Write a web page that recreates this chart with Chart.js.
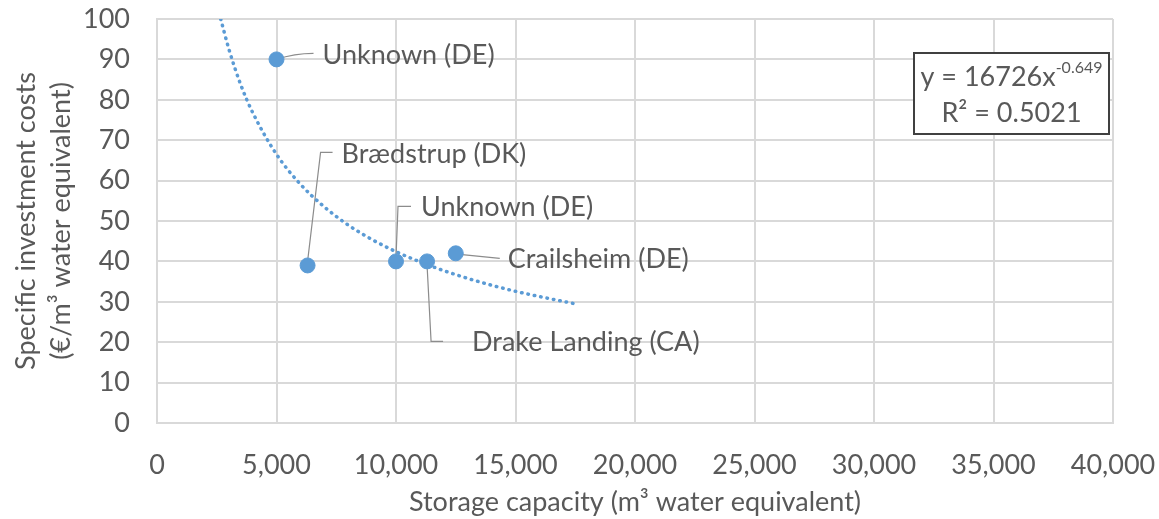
<!DOCTYPE html>
<html>
<head>
<meta charset="utf-8">
<script src="https://cdn.jsdelivr.net/npm/chart.js@4/dist/chart.umd.min.js"></script>
<style>
    body { margin: 0; background: #fff; }
    #wrap { width: 1159px; height: 519px; }
</style>
</head>
<body>
<div id="wrap"><canvas id="storage-chart" width="1159" height="519"></canvas></div>
<script>
// plants: storage capacity (m3 water eq.) vs specific cost (EUR/m3)
const plantNames = ['Unknown (DE)', 'Brædstrup (DK)', 'Unknown (DE)', 'Drake Landing (CA)', 'Crailsheim (DE)'];
const capacity = [5000, 6300, 10000, 11300, 12500];
const costs = [90, 39, 40, 40, 42];

// power trendline
const trendX = [2666, 3000, 3500, 4000, 5000, 6000, 7000, 8000, 9000, 10000, 11000, 12000, 13000, 14000, 15000, 16000, 17500];
const trendY = [100, 92.7, 83.8, 76.9, 66.5, 59.1, 53.5, 49.0, 45.4, 42.4, 39.9, 37.7, 35.8, 34.1, 32.6, 31.3, 29.5];

const xTicks = [0, 5000, 10000, 15000, 20000, 25000, 30000, 35000, 40000];
const yTicks = [0, 10, 20, 30, 40, 50, 60, 70, 80, 90, 100];

const textColor = '#595959';
const blue = '#5B9BD5';
const fontFamily = 'Lato, "Open Sans", sans-serif';

// leader line path + label anchor, offsets in px from the point
const leaders = [
    { path: [[0, 0], [37, -6]], curve: true, text: [46, -4] },
    { path: [[0, -4], [13, -113], [25, -113]], text: [34, -111] },
    { path: [[0, -4], [2, -55], [15, -55]], text: [25, -54] },
    { path: [[0, 4], [4, 80], [16, 80]], text: [45, 81] },
    { path: [[4, 1], [44, 5]], text: [52, 6] }
];

const leaderPlugin = {
    id: 'leaders',
    beforeDatasetsDraw(chart) {
        const ctx = chart.ctx;
        const meta = chart.getDatasetMeta(0);
        ctx.save();
        ctx.strokeStyle = '#8c8c8c';
        ctx.lineWidth = 1.2;
        meta.data.forEach((pt, i) => {
            const p = leaders[i].path;
            ctx.beginPath();
            ctx.moveTo(pt.x + p[0][0], pt.y + p[0][1]);
            if (leaders[i].curve) {
                ctx.quadraticCurveTo(pt.x + 18, pt.y - 6, pt.x + p[1][0], pt.y + p[1][1]);
            } else {
                for (let k = 1; k < p.length; k++) {
                    ctx.lineTo(pt.x + p[k][0], pt.y + p[k][1]);
                }
            }
            ctx.stroke();
        });
        ctx.restore();
    },
    afterDatasetsDraw(chart) {
        const ctx = chart.ctx;
        const meta = chart.getDatasetMeta(0);
        ctx.save();
        ctx.fillStyle = textColor;
        ctx.font = '27px ' + fontFamily;
        ctx.textAlign = 'left';
        ctx.textBaseline = 'middle';
        meta.data.forEach((pt, i) => {
            const t = leaders[i].text;
            ctx.fillText(plantNames[i], pt.x + t[0], pt.y + t[1]);
        });

        // trendline equation box
        const bx = 914, by = 53, bw = 195, bh = 81;
        ctx.fillStyle = '#fff';
        ctx.fillRect(bx, by, bw, bh);
        ctx.strokeStyle = '#404040';
        ctx.lineWidth = 2;
        ctx.strokeRect(bx, by, bw, bh);

        ctx.fillStyle = textColor;
        const main = 'y = 16726x';
        const sup = '-0.649';
        ctx.font = '27px ' + fontFamily;
        const w1 = ctx.measureText(main).width;
        ctx.font = '16px ' + fontFamily;
        const w2 = ctx.measureText(sup).width;
        const sx = bx + bw / 2 - (w1 + w2) / 2;
        ctx.font = '27px ' + fontFamily;
        ctx.fillText(main, sx, by + 24);
        ctx.font = '16px ' + fontFamily;
        ctx.fillText(sup, sx + w1, by + 15);
        ctx.font = '27px ' + fontFamily;
        ctx.textAlign = 'center';
        ctx.fillText('R² = 0.5021', bx + bw / 2, by + 60);
        ctx.restore();
    }
};

const ctx = document.getElementById('storage-chart').getContext('2d');

new Chart(ctx, {
    type: 'scatter',
    data: {
        datasets: [
            {
                label: 'Plants',
                data: capacity.map((x, i) => ({ x: x, y: costs[i] })),
                backgroundColor: blue,
                borderColor: blue,
                pointRadius: 7.5,
                pointHoverRadius: 7.5,
                order: 0
            },
            {
                label: 'Power trend',
                type: 'line',
                data: trendX.map((x, i) => ({ x: x, y: trendY[i] })),
                borderColor: blue,
                borderWidth: 3.5,
                borderDash: [0.5, 6],
                borderCapStyle: 'round',
                pointRadius: 0,
                cubicInterpolationMode: 'monotone',
                fill: false,
                order: 1
            }
        ]
    },
    options: {
        responsive: false,
        animation: false,
        layout: {
            padding: { top: 19, right: 46, left: 0, bottom: 0 }
        },
        plugins: {
            legend: { display: false },
            tooltip: { enabled: false }
        },
        scales: {
            x: {
                type: 'linear',
                min: 0,
                max: 40000,
                afterBuildTicks: (scale) => {
                    scale.ticks = xTicks.map(v => ({ value: v }));
                },
                afterFit: (scale) => {
                    scale.height = 96;
                    scale.paddingLeft = 0;
                    scale.paddingRight = 0;
                },
                grid: { color: '#d9d9d9', lineWidth: 2, drawTicks: false },
                border: { color: '#d9d9d9', width: 2 },
                ticks: {
                    color: textColor,
                    padding: 26,
                    font: { family: fontFamily, size: 27 },
                    callback: (v) => v.toLocaleString('en-US')
                },
                title: {
                    display: true,
                    text: 'Storage capacity (m³ water equivalent)',
                    color: textColor,
                    font: { family: fontFamily, size: 27, lineHeight: '28px' },
                    padding: { top: 0, bottom: 3 }
                }
            },
            y: {
                type: 'linear',
                min: 0,
                max: 100,
                afterBuildTicks: (scale) => {
                    scale.ticks = yTicks.map(v => ({ value: v }));
                },
                afterFit: (scale) => {
                    scale.width = 157;
                    scale.paddingTop = 0;
                    scale.paddingBottom = 0;
                },
                grid: { color: '#d9d9d9', lineWidth: 2, drawTicks: false },
                border: { color: '#d9d9d9', width: 2 },
                ticks: {
                    color: textColor,
                    padding: 27,
                    font: { family: fontFamily, size: 27 }
                },
                title: {
                    display: true,
                    text: ['Specific investment costs', '(€/m³ water equivalent)'],
                    color: textColor,
                    font: { family: fontFamily, size: 27, lineHeight: '35px' },
                    padding: { top: 9, bottom: 0 }
                }
            }
        }
    },
    plugins: [leaderPlugin]
});
</script>
</body>
</html>
